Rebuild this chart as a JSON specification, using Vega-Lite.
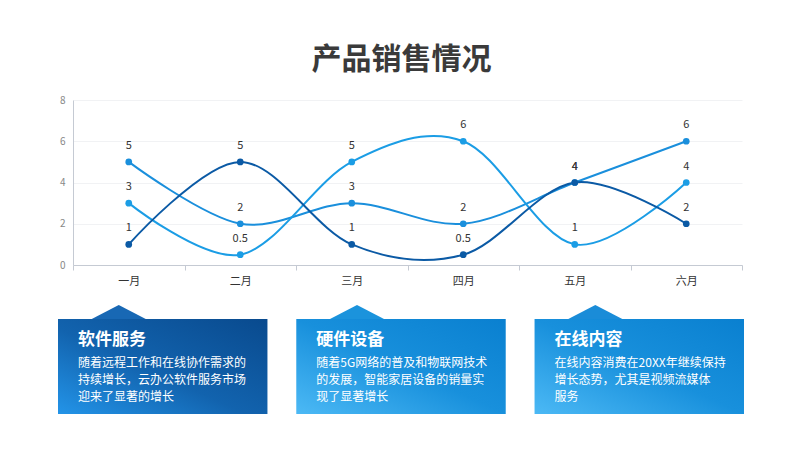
{
  "$schema": "https://vega.github.io/schema/vega-lite/v6.json",
  "background": "white",
  "padding": {"left": 58, "top": 45, "right": 0, "bottom": 0},
  "config": {
    "font": "Noto Sans CJK SC",
    "view": {"stroke": null},
    "concat": {"spacing": 18}
  },
  "datasets": {
    "sales": [
      {"month": "一月", "series": "硬件设备", "value": 5},
      {"month": "二月", "series": "硬件设备", "value": 2},
      {"month": "三月", "series": "硬件设备", "value": 3},
      {"month": "四月", "series": "硬件设备", "value": 2},
      {"month": "五月", "series": "硬件设备", "value": 4},
      {"month": "六月", "series": "硬件设备", "value": 6},
      {"month": "一月", "series": "在线内容", "value": 3},
      {"month": "二月", "series": "在线内容", "value": 0.5},
      {"month": "三月", "series": "在线内容", "value": 5},
      {"month": "四月", "series": "在线内容", "value": 6},
      {"month": "五月", "series": "在线内容", "value": 1},
      {"month": "六月", "series": "在线内容", "value": 4},
      {"month": "一月", "series": "软件服务", "value": 1},
      {"month": "二月", "series": "软件服务", "value": 5},
      {"month": "三月", "series": "软件服务", "value": 1},
      {"month": "四月", "series": "软件服务", "value": 0.5},
      {"month": "五月", "series": "软件服务", "value": 4},
      {"month": "六月", "series": "软件服务", "value": 2}
    ],
    "cards": [
      {"card": "软件服务", "row": 0, "text": "软件服务"},
      {"card": "软件服务", "row": 1, "text": "随着远程工作和在线协作需求的"},
      {"card": "软件服务", "row": 2, "text": "持续增长，云办公软件服务市场"},
      {"card": "软件服务", "row": 3, "text": "迎来了显著的增长"},
      {"card": "硬件设备", "row": 0, "text": "硬件设备"},
      {"card": "硬件设备", "row": 1, "text": "随着5G网络的普及和物联网技术"},
      {"card": "硬件设备", "row": 2, "text": "的发展，智能家居设备的销量实"},
      {"card": "硬件设备", "row": 3, "text": "现了显著增长"},
      {"card": "在线内容", "row": 0, "text": "在线内容"},
      {"card": "在线内容", "row": 1, "text": "在线内容消费在20XX年继续保持"},
      {"card": "在线内容", "row": 2, "text": "增长态势，尤其是视频流媒体"},
      {"card": "在线内容", "row": 3, "text": "服务"}
    ]
  },
  "vconcat": [
    {
      "title": {
        "text": "产品销售情况",
        "fontSize": 30,
        "fontWeight": "bold",
        "color": "#3a3a3a",
        "anchor": "middle",
        "offset": 20,
        "dx": -6
      },
      "width": 669,
      "height": 165,
      "data": {"name": "sales"},
      "encoding": {
        "x": {
          "field": "month",
          "type": "nominal",
          "sort": null,
          "title": null,
          "scale": {"type": "band", "paddingInner": 0, "paddingOuter": 0},
          "axis": {
            "labelAngle": 0,
            "tickBand": "extent",
            "domainColor": "#c5cad3",
            "tickColor": "#c5cad3",
            "tickSize": 5,
            "labelColor": "#333333",
            "labelFontSize": 11,
            "labelPadding": 5,
            "grid": false
          }
        },
        "y": {
          "field": "value",
          "type": "quantitative",
          "title": null,
          "scale": {"domain": [0, 8]},
          "axis": {
            "values": [0, 2, 4, 6, 8],
            "domainColor": "#c5cad3",
            "ticks": false,
            "labelColor": "#888888",
            "labelFontSize": 10,
            "labelPadding": 8,
            "grid": true,
            "gridColor": "#f1f2f4"
          }
        },
        "color": {
          "field": "series",
          "type": "nominal",
          "legend": null,
          "scale": {
            "domain": ["硬件设备", "在线内容", "软件服务"],
            "range": ["#1a8fdc", "#1b9de5", "#0b5aa5"]
          }
        }
      },
      "layer": [
        {"mark": {"type": "line", "interpolate": "cardinal", "strokeWidth": 2}},
        {"mark": {"type": "circle", "size": 45, "opacity": 1}},
        {
          "mark": {"type": "text", "dy": -16, "fontSize": 11, "color": "#333333"},
          "encoding": {
            "text": {"field": "value", "type": "quantitative", "format": "~g"},
            "color": {"value": "#333333"}
          }
        }
      ]
    },
    {
      "width": 671,
      "height": 95,
      "data": {"name": "cards"},
      "resolve": {"scale": {"y": "independent"}},
      "encoding": {
        "x": {
          "field": "card",
          "type": "nominal",
          "sort": null,
          "axis": null,
          "scale": {"paddingInner": 0.121, "paddingOuter": 0, "range": [-15, 671]}
        }
      },
      "layer": [
        {
          "transform": [{"filter": "datum.row == 0 && datum.card == '软件服务'"}],
          "mark": {
            "type": "rect",
            "fill": {
              "gradient": "linear",
              "x1": 1, "y1": 0, "x2": 0, "y2": 1,
              "stops": [
                {"offset": 0, "color": "#094a8e"},
                {"offset": 0.55, "color": "#1263ae"},
                {"offset": 1, "color": "#2394e8"}
              ]
            }
          }
        },
        {
          "transform": [{"filter": "datum.row == 0 && datum.card != '软件服务'"}],
          "mark": {
            "type": "rect",
            "fill": {
              "gradient": "linear",
              "x1": 1, "y1": 0, "x2": 0, "y2": 1,
              "stops": [
                {"offset": 0, "color": "#0a80d0"},
                {"offset": 0.5, "color": "#1890dc"},
                {"offset": 1, "color": "#4cb9f5"}
              ]
            }
          }
        },
        {
          "transform": [{"filter": "datum.row == 0"}],
          "mark": {
            "type": "point",
            "shape": "M-1,-1L0,-1.52L1,-1Z",
            "size": 2916,
            "filled": true,
            "opacity": 1,
            "strokeWidth": 0
          },
          "encoding": {
            "x": {"field": "card", "type": "nominal", "sort": null, "bandPosition": 0.29},
            "y": {
              "field": "row",
              "type": "quantitative",
              "axis": null,
              "scale": {"domain": [-1.588, 4.0], "reverse": true, "zero": false, "nice": false}
            },
            "fill": {
              "field": "card",
              "type": "nominal",
              "legend": null,
              "scale": {
                "domain": ["软件服务", "硬件设备", "在线内容"],
                "range": ["#1868b4", "#1b93dc", "#1a8cd8"]
              }
            }
          }
        },
        {
          "transform": [{"filter": "datum.row == 0"}],
          "mark": {
            "type": "text",
            "align": "left",
            "baseline": "middle",
            "dx": 20,
            "dy": -6,
            "fontSize": 17,
            "fontWeight": "bold",
            "color": "white"
          },
          "encoding": {
            "x": {"field": "card", "type": "nominal", "sort": null, "bandPosition": 0},
            "y": {
              "field": "row",
              "type": "quantitative",
              "axis": null,
              "scale": {"domain": [-1.588, 4.0], "reverse": true, "zero": false, "nice": false}
            },
            "text": {"field": "text"}
          }
        },
        {
          "transform": [{"filter": "datum.row > 0"}],
          "mark": {
            "type": "text",
            "align": "left",
            "baseline": "middle",
            "dx": 20,
            "fontSize": 12,
            "color": "white"
          },
          "encoding": {
            "x": {"field": "card", "type": "nominal", "sort": null, "bandPosition": 0},
            "y": {
              "field": "row",
              "type": "quantitative",
              "axis": null,
              "scale": {"domain": [-1.588, 4.0], "reverse": true, "zero": false, "nice": false}
            },
            "text": {"field": "text"}
          }
        }
      ]
    }
  ]
}
